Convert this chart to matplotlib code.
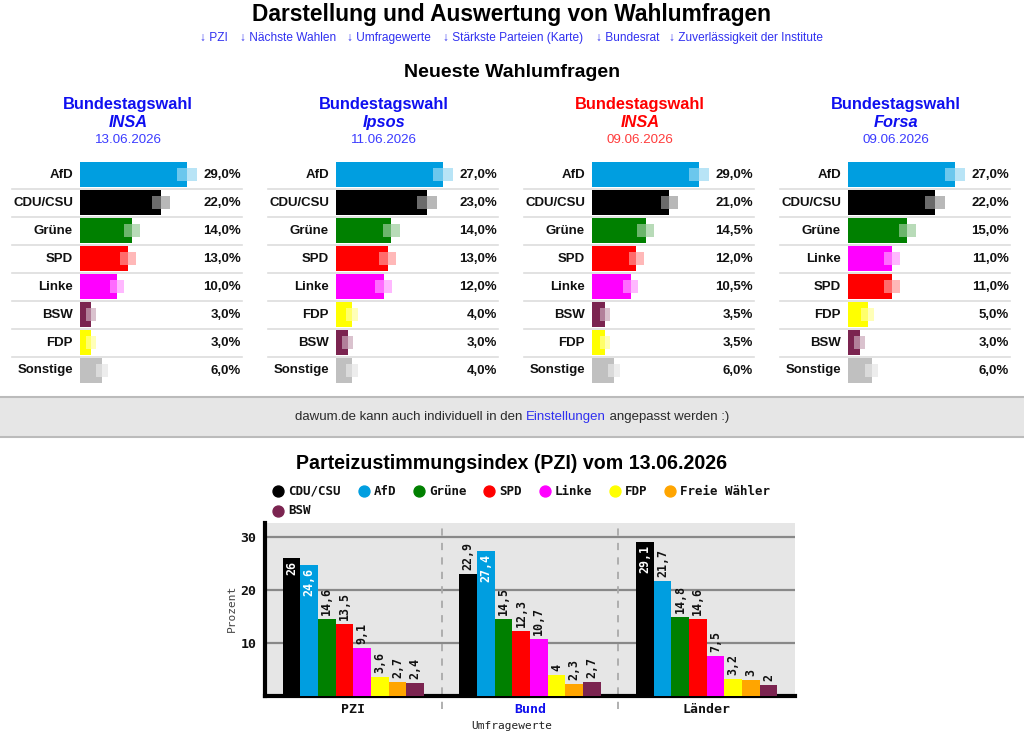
import numpy as np
import matplotlib
matplotlib.use('Agg')
import matplotlib.pyplot as plt
import matplotlib.transforms as mtransforms
from matplotlib.patches import Rectangle

plt.rcParams['font.family'] = ['Liberation Sans', 'DejaVu Sans']

# Neueste Wahlumfragen
institute = ['INSA', 'Ipsos', 'INSA', 'Forsa']
daten = ['13.06.2026', '11.06.2026', '09.06.2026', '09.06.2026']
kopf_rot = [False, False, True, False]

umfrage1_parteien = ['AfD', 'CDU/CSU', 'Grüne', 'SPD', 'Linke', 'BSW', 'FDP', 'Sonstige']
umfrage1_werte = [29.0, 22.0, 14.0, 13.0, 10.0, 3.0, 3.0, 6.0]
umfrage2_parteien = ['AfD', 'CDU/CSU', 'Grüne', 'SPD', 'Linke', 'FDP', 'BSW', 'Sonstige']
umfrage2_werte = [27.0, 23.0, 14.0, 13.0, 12.0, 4.0, 3.0, 4.0]
umfrage3_parteien = ['AfD', 'CDU/CSU', 'Grüne', 'SPD', 'Linke', 'BSW', 'FDP', 'Sonstige']
umfrage3_werte = [29.0, 21.0, 14.5, 12.0, 10.5, 3.5, 3.5, 6.0]
umfrage4_parteien = ['AfD', 'CDU/CSU', 'Grüne', 'Linke', 'SPD', 'FDP', 'BSW', 'Sonstige']
umfrage4_werte = [27.0, 22.0, 15.0, 11.0, 11.0, 5.0, 3.0, 6.0]

# Parteizustimmungsindex
pzi_gruppen = ['PZI', 'Bund', 'Länder']
pzi_parteien = ['CDU/CSU', 'AfD', 'Grüne', 'SPD', 'Linke', 'FDP', 'Freie Wähler', 'BSW']
pzi_cdu = [26, 22.9, 29.1]
pzi_afd = [24.6, 27.4, 21.7]
pzi_gruene = [14.6, 14.5, 14.8]
pzi_spd = [13.5, 12.3, 14.6]
pzi_linke = [9.1, 10.7, 7.5]
pzi_fdp = [3.6, 4, 3.2]
pzi_fw = [2.7, 2.3, 3]
pzi_bsw = [2.4, 2.7, 2]

farben = {'CDU/CSU': '#000000', 'AfD': '#009ee0', 'Grüne': '#008000', 'SPD': '#ff0000',
          'Linke': '#ff00ff', 'FDP': '#ffff00', 'Freie Wähler': '#ffa500', 'BSW': '#7b2450',
          'Sonstige': '#c0c0c0'}

W, H = 1024, 748
fig = plt.figure(figsize=(W / 100, H / 100), dpi=100)

def box(x0, y0, x1, y1):
    return [x0 / W, 1 - y1 / H, (x1 - x0) / W, (y1 - y0) / H]

def hell(c, f):
    r = np.array(matplotlib.colors.to_rgb(c))
    return tuple(r + (1 - r) * f)

page = fig.add_axes([0, 0, 1, 1])
page.set_xlim(0, W)
page.set_ylim(H, 0)
page.axis('off')

blau = '#0f0ff0'
page.text(512, 14, 'Darstellung und Auswertung von Wahlumfragen', ha='center', va='center',
          fontsize=16.4, fontweight='bold')
links = ['↓ PZI', '↓ Nächste Wahlen', '↓ Umfragewerte', '↓ Stärkste Parteien (Karte)',
         '↓ Bundesrat', '↓ Zuverlässigkeit der Institute']
link_x = [200, 240, 347, 443, 596, 669]
for t, x in zip(links, link_x):
    page.text(x, 38, t, ha='left', va='center', fontsize=8.6, color='#3030f0')
page.text(512, 72, 'Neueste Wahlumfragen', ha='center', va='center', fontsize=14,
          fontweight='bold')

alle_parteien = [umfrage1_parteien, umfrage2_parteien, umfrage3_parteien, umfrage4_parteien]
alle_werte = [umfrage1_werte, umfrage2_werte, umfrage3_werte, umfrage4_werte]

for k in range(4):
    dx = 256 * k
    c1 = '#ff0000' if kopf_rot[k] else blau
    c2 = '#ff3b3b' if kopf_rot[k] else '#3b3bff'
    page.text(128 + dx, 104, 'Bundestagswahl', ha='center', va='center', fontsize=11.8,
              fontweight='bold', color=c1)
    page.text(128 + dx, 122, institute[k], ha='center', va='center', fontsize=11.8,
              fontweight='bold', fontstyle='italic', color=c1)
    page.text(128 + dx, 140, daten[k], ha='center', va='center', fontsize=9.6, color=c2)

    namen = alle_parteien[k]
    werte = alle_werte[k]
    ax = fig.add_axes(box(80 + dx, 160.5, 242 + dx, 384.5))
    ax.set_xlim(0, max(werte) * 162 / 107)
    ax.set_ylim(len(werte) - 0.5, -0.5)
    ax.axis('off')
    ys = np.arange(len(werte))
    ax.barh(ys, werte, height=25 / 28, color=[farben[n] for n in namen])
    yt = ax.get_yaxis_transform()
    for i, (n, v) in enumerate(zip(namen, werte)):
        p = v / 100
        h = 0.67 + 4.3 * np.sqrt(p * (1 - p))
        c = farben[n]
        ax.add_patch(Rectangle((v - h, i - 0.225), h, 0.45, color=hell(c, 0.42), lw=0))
        ax.add_patch(Rectangle((v, i - 0.225), h, 0.45, color=hell(c, 0.72), lw=0, clip_on=False))
        ax.annotate(n, xy=(0, i), xycoords=yt, xytext=(-7, 0), textcoords='offset pixels',
                    ha='right', va='center', fontsize=9.5, fontweight='bold', color='#111111')
        ax.annotate(f'{v:.1f}%'.replace('.', ','), xy=(1, i), xycoords=yt, xytext=(-1, 0),
                    textcoords='offset pixels', ha='right', va='center', fontsize=9.5,
                    fontweight='bold', color='#111111')
        if i < len(werte) - 1:
            ax.plot([-68 / 162, 1], [i + 0.5, i + 0.5], transform=yt, color='#dddddd', lw=1.2,
                    clip_on=False)

# Hinweisbalken
page.add_patch(Rectangle((0, 397), W, 40, facecolor='#e6e6e6', edgecolor='none'))
page.plot([0, W], [397, 397], color='#bbbbbb', lw=1.5)
page.plot([0, W], [437, 437], color='#bbbbbb', lw=1.5)
teile = ['dawum.de kann auch individuell in den ', 'Einstellungen', ' angepasst werden :)']
teil_farben = ['#2a2a2a', '#3030f0', '#2a2a2a']
r = fig.canvas.get_renderer()
objs = [page.text(0, 417, t, ha='left', va='center', fontsize=9.5, color=c)
        for t, c in zip(teile, teil_farben)]
breiten = [o.get_window_extent(r).width for o in objs]
x = 512 - sum(breiten) / 2
for o, b in zip(objs, breiten):
    o.set_x(x)
    x += b

page.text(512, 463, 'Parteizustimmungsindex (PZI) vom 13.06.2026', ha='center', va='center',
          fontsize=14.1, fontweight='bold')

# Legende
mono = 'DejaVu Sans Mono'
leg_x = [278, 364, 419, 489, 545, 615, 670, 278]
leg_y = [491, 491, 491, 491, 491, 491, 491, 511]
for n, x, y in zip(pzi_parteien, leg_x, leg_y):
    page.scatter([x], [y], s=62, color=farben[n], zorder=3)
    page.text(x + 10, y, n, ha='left', va='center', fontsize=9, fontweight='bold',
              family=mono, color='#111111')

# PZI-Diagramm
ax = fig.add_axes(box(265, 523, 795, 696))
ax.set_facecolor('#e6e6e6')
reihen = [pzi_cdu, pzi_afd, pzi_gruene, pzi_spd, pzi_linke, pzi_fdp, pzi_fw, pzi_bsw]
xg = np.arange(len(pzi_gruppen))
bw = 0.1
for i, (n, werte) in enumerate(zip(pzi_parteien, reihen)):
    xs = xg + (i - 3.5) * bw
    ax.bar(xs, werte, width=bw, color=farben[n], zorder=3)
    for xx, v in zip(xs, werte):
        t = f'{v:g}'.replace('.', ',')
        if v > 24:
            ax.annotate(t, xy=(xx, v), xytext=(0, -3), textcoords='offset pixels', ha='center',
                        va='top', rotation=90, fontsize=8.4, fontweight='bold', family=mono,
                        color='white', zorder=4)
        else:
            ax.annotate(t, xy=(xx, v), xytext=(0, 4), textcoords='offset pixels', ha='center',
                        va='bottom', rotation=90, fontsize=8.4, fontweight='bold', family=mono,
                        color='#111111', zorder=4)
ax.set_xlim(-0.5, len(pzi_gruppen) - 0.5)
ax.set_ylim(0, 32.6)
ax.set_yticks([10, 20, 30])
ax.yaxis.grid(True, color='#888888', lw=1.6, zorder=1)
ax.set_axisbelow(True)
ax.tick_params(axis='both', length=0, labelsize=9.5)
ax.tick_params(axis='y', pad=6)
ax.tick_params(axis='x', pad=5)
ax.set_xticks(xg)
ax.set_xticklabels(pzi_gruppen)
for lab in ax.get_xticklabels() + ax.get_yticklabels():
    lab.set_family(mono)
    lab.set_fontweight('bold')
    lab.set_color('#111111')
ax.get_xticklabels()[1].set_color('#1010ee')
for s in ['top', 'right']:
    ax.spines[s].set_visible(False)
for s in ['left', 'bottom']:
    ax.spines[s].set_linewidth(3)
    ax.spines[s].set_color('black')
bt = mtransforms.blended_transform_factory(ax.transData, ax.transAxes)
for g in xg[:-1] + 0.5:
    ax.plot([g, g], [-0.075, 1], transform=bt, color='#aaaaaa', lw=1.3, ls=(0, (4, 4)),
            clip_on=False, zorder=2)

page.text(232, 608, 'Prozent', rotation=90, ha='center', va='center', fontsize=8,
          family=mono, color='#444444')
page.text(512, 726, 'Umfragewerte', ha='center', va='center', fontsize=8, family=mono,
          color='#222222')

fig.savefig('out.png', dpi=100)
